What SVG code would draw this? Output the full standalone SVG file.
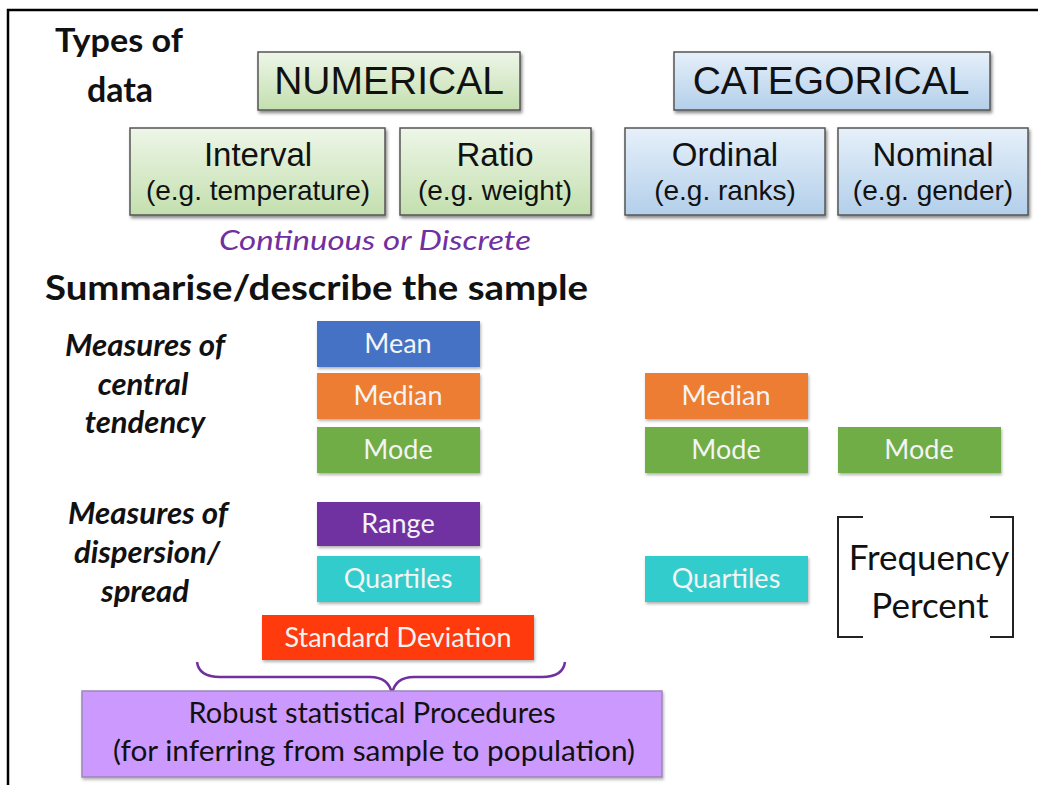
<svg xmlns="http://www.w3.org/2000/svg" width="1038" height="785" viewBox="0 0 1038 785">
<defs>
<linearGradient id="gGreen" x1="0" y1="0" x2="0" y2="1"><stop offset="0" stop-color="#EEF6E8"/><stop offset="1" stop-color="#C3DFAE"/></linearGradient>
<linearGradient id="gBlue" x1="0" y1="0" x2="0" y2="1"><stop offset="0" stop-color="#E6F0FA"/><stop offset="1" stop-color="#B3CFEA"/></linearGradient>
<filter id="sh" x="-10%" y="-20%" width="125%" height="150%"><feDropShadow dx="1.5" dy="2.5" stdDeviation="1.5" flood-color="#000" flood-opacity="0.45"/></filter>
<filter id="sh2" x="-10%" y="-20%" width="125%" height="150%"><feDropShadow dx="1" dy="2" stdDeviation="1.5" flood-color="#000" flood-opacity="0.3"/></filter>
</defs>
<style>
.hdr{fill:#111;font-family:Lato,"Open Sans",sans-serif;font-weight:bold}
.lab{fill:#111;font-family:Lato,"Open Sans",sans-serif;font-weight:bold;font-style:italic;font-size:31px;text-anchor:middle}
.tb{stroke:#555;stroke-width:1.5;filter:url(#sh)}
.big{font-family:"Liberation Sans",Arial,sans-serif;font-size:39px;fill:#111;text-anchor:middle}
.t1{font-family:"Liberation Sans",Arial,sans-serif;font-size:33px;fill:#111;text-anchor:middle}
.t2{font-family:"Liberation Sans",Arial,sans-serif;font-size:28px;fill:#111;text-anchor:middle}
.cb{filter:url(#sh2)}
.ct{font-family:Lato,"Open Sans",sans-serif;font-size:27px;fill:#F4F4F4;text-anchor:middle}
.blk{font-family:Lato,"Open Sans",sans-serif;fill:#111;text-anchor:middle}
</style>
<rect x="0" y="0" width="1038" height="785" fill="#fff"/>
<path d="M8,785 L8,10 L1038,10" fill="none" stroke="#000" stroke-width="2.5"/>

<g id="title-types">
<text class="hdr" x="119" y="52" font-size="33" text-anchor="middle" textLength="128" lengthAdjust="spacingAndGlyphs">Types of</text>
<text class="hdr" x="120" y="102" font-size="34" text-anchor="middle">data</text>
</g>

<g id="numerical">
<rect class="tb" x="258" y="52" width="262" height="58" fill="url(#gGreen)"/>
<text class="big" x="389" y="94">NUMERICAL</text>
</g>
<g id="categorical">
<rect class="tb" x="674" y="52" width="316" height="58" fill="url(#gBlue)"/>
<text class="big" x="831" y="94">CATEGORICAL</text>
</g>
<g id="interval">
<rect class="tb" x="130" y="128" width="255" height="87" fill="url(#gGreen)"/>
<text class="t1" x="258" y="166">Interval</text>
<text class="t2" x="258" y="200">(e.g. temperature)</text>
</g>
<g id="ratio">
<rect class="tb" x="400" y="128" width="191" height="87" fill="url(#gGreen)"/>
<text class="t1" x="495" y="166">Ratio</text>
<text class="t2" x="495" y="200">(e.g. weight)</text>
</g>
<g id="ordinal">
<rect class="tb" x="625" y="128" width="200" height="87" fill="url(#gBlue)"/>
<text class="t1" x="725" y="166">Ordinal</text>
<text class="t2" x="725" y="200">(e.g. ranks)</text>
</g>
<g id="nominal">
<rect class="tb" x="838" y="128" width="190" height="87" fill="url(#gBlue)"/>
<text class="t1" x="933" y="166">Nominal</text>
<text class="t2" x="933" y="200">(e.g. gender)</text>
</g>

<g id="continuous">
<text x="375" y="250" font-family="Lato,'Open Sans',sans-serif" font-style="italic" font-size="27" fill="#7030A0" text-anchor="middle" textLength="312" lengthAdjust="spacingAndGlyphs">Continuous or Discrete</text>
</g>

<g id="summarise">
<text class="hdr" x="45" y="300" font-size="34" textLength="543" lengthAdjust="spacingAndGlyphs">Summarise/describe the sample</text>
</g>

<g id="label-central">
<text class="lab" x="145" y="356" textLength="160" lengthAdjust="spacingAndGlyphs">Measures of</text>
<text class="lab" x="143" y="395">central</text>
<text class="lab" x="145" y="433">tendency</text>
</g>
<g id="label-dispersion">
<text class="lab" x="148" y="524" textLength="160" lengthAdjust="spacingAndGlyphs">Measures of</text>
<text class="lab" x="147" y="563">dispersion/</text>
<text class="lab" x="145" y="602">spread</text>
</g>

<g id="mean"><rect class="cb" x="317" y="321" width="163" height="46" fill="#4472C4"/><text class="ct" x="398" y="353">Mean</text></g>
<g id="median-num"><rect class="cb" x="317" y="373" width="163" height="46" fill="#ED7D31"/><text class="ct" x="398" y="405">Median</text></g>
<g id="mode-num"><rect class="cb" x="317" y="427" width="163" height="46" fill="#70AD47"/><text class="ct" x="398" y="459">Mode</text></g>
<g id="median-ord"><rect class="cb" x="645" y="373" width="163" height="46" fill="#ED7D31"/><text class="ct" x="726" y="405">Median</text></g>
<g id="mode-ord"><rect class="cb" x="645" y="427" width="163" height="46" fill="#70AD47"/><text class="ct" x="726" y="459">Mode</text></g>
<g id="mode-nom"><rect class="cb" x="838" y="427" width="163" height="46" fill="#70AD47"/><text class="ct" x="919" y="459">Mode</text></g>
<g id="range"><rect class="cb" x="317" y="502" width="163" height="44" fill="#7030A0"/><text class="ct" x="398" y="533">Range</text></g>
<g id="quartiles-num"><rect class="cb" x="317" y="556" width="163" height="46" fill="#33CCCC"/><text class="ct" x="398" y="588">Quartiles</text></g>
<g id="quartiles-ord"><rect class="cb" x="645" y="556" width="163" height="46" fill="#33CCCC"/><text class="ct" x="726" y="588">Quartiles</text></g>
<g id="stddev"><rect class="cb" x="262" y="615" width="272" height="45" fill="#FF3A0A"/><text class="ct" x="398" y="647">Standard Deviation</text></g>

<g id="freq">
<path d="M863,517 L838,517 L838,637 L863,637 M990,517 L1013,517 L1013,637 L990,637" fill="none" stroke="#222" stroke-width="2"/>
<text class="blk" x="929" y="570" font-size="35">Frequency</text>
<text class="blk" x="930" y="618" font-size="35">Percent</text>
</g>

<g id="connectors">
<path d="M197,662 Q199,677 220,677 L370,677 Q389,677 392,694 Q395,677 414,677 L542,677 Q563,677 565,662" fill="none" stroke="#7030A0" stroke-width="2.5"/>
</g>

<g id="robust">
<rect x="82" y="691" width="580" height="86" fill="#CC99FF" stroke="#9C86B8" stroke-width="1.5" filter="url(#sh2)"/>
<text class="blk" x="372" y="723" font-size="29" textLength="367" lengthAdjust="spacingAndGlyphs">Robust statistical Procedures</text>
<text class="blk" x="374" y="761" font-size="29" textLength="522" lengthAdjust="spacingAndGlyphs">(for inferring from sample to population)</text>
</g>
</svg>
